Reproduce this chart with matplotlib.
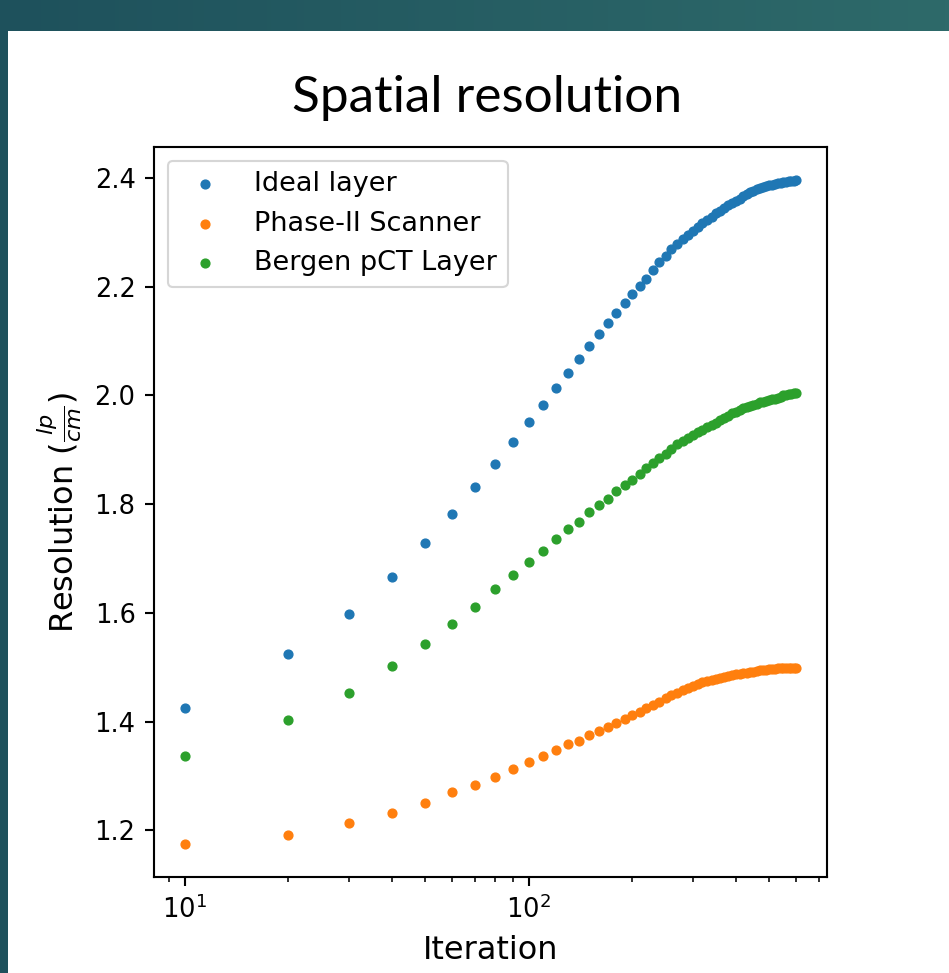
import numpy as np
import matplotlib.pyplot as plt
from matplotlib.colors import LinearSegmentedColormap

# iterations 10, 20, ..., 600
iterations = [10, 20, 30, 40, 50, 60, 70, 80, 90, 100,
              110, 120, 130, 140, 150, 160, 170, 180, 190, 200,
              210, 220, 230, 240, 250, 260, 270, 280, 290, 300,
              310, 320, 330, 340, 350, 360, 370, 380, 390, 400,
              410, 420, 430, 440, 450, 460, 470, 480, 490, 500,
              510, 520, 530, 540, 550, 560, 570, 580, 590, 600]

ideal_layer = [1.425, 1.524, 1.598, 1.665, 1.729, 1.781, 1.831, 1.873, 1.915, 1.951,
               1.982, 2.014, 2.042, 2.067, 2.091, 2.113, 2.134, 2.152, 2.170, 2.187,
               2.202, 2.215, 2.231, 2.245, 2.256, 2.270, 2.279, 2.288, 2.296, 2.303,
               2.310, 2.317, 2.323, 2.329, 2.335, 2.340, 2.345, 2.350, 2.354, 2.358,
               2.362, 2.366, 2.370, 2.374, 2.376, 2.379, 2.381, 2.383, 2.385, 2.387,
               2.388, 2.389, 2.390, 2.391, 2.392, 2.393, 2.394, 2.395, 2.395, 2.396]

phase2_scanner = [1.175, 1.192, 1.214, 1.232, 1.251, 1.270, 1.283, 1.298, 1.312, 1.326,
                  1.337, 1.347, 1.359, 1.365, 1.376, 1.383, 1.390, 1.397, 1.405, 1.412,
                  1.417, 1.424, 1.430, 1.436, 1.443, 1.448, 1.453, 1.458, 1.462, 1.466,
                  1.469, 1.472, 1.474, 1.476, 1.478, 1.480, 1.482, 1.484, 1.485, 1.487,
                  1.488, 1.489, 1.490, 1.491, 1.492, 1.493, 1.494, 1.495, 1.495, 1.496,
                  1.497, 1.497, 1.498, 1.498, 1.499, 1.499, 1.499, 1.499, 1.499, 1.499]

bergen_layer = [1.337, 1.403, 1.453, 1.502, 1.542, 1.580, 1.611, 1.643, 1.670, 1.693,
                1.714, 1.736, 1.754, 1.768, 1.785, 1.799, 1.810, 1.824, 1.835, 1.845,
                1.856, 1.867, 1.876, 1.885, 1.893, 1.902, 1.911, 1.917, 1.922, 1.927,
                1.932, 1.937, 1.942, 1.946, 1.950, 1.954, 1.958, 1.963, 1.967, 1.970,
                1.973, 1.976, 1.978, 1.981, 1.983, 1.985, 1.987, 1.988, 1.990, 1.991,
                1.993, 1.994, 1.996, 1.998, 2.000, 2.001, 2.002, 2.003, 2.004, 2.004]

W, H = 949, 973
k = 1.9  # the chart in the slide is an enlarged default matplotlib plot

fig = plt.figure(figsize=(W / 100, H / 100), dpi=100, facecolor='white')

# slide background: teal bar on top, thin strip on the left
bg = fig.add_axes([0, 0, 1, 1], zorder=-1)
slide = LinearSegmentedColormap.from_list('slide', ['#1e515c', '#2e6a6a'])
bg.imshow(np.linspace(0, 1, 256).reshape(1, -1), cmap=slide,
          extent=[0, W, 31, 0], aspect='auto')
bg.imshow(np.zeros((1, 1)), cmap=slide, vmin=0, vmax=1,
          extent=[0, 8, H, 31], aspect='auto')
bg.set_xlim(0, W)
bg.set_ylim(H, 0)
bg.axis('off')

fig.text(487 / W, 1 - 98 / H, 'Spatial resolution', ha='center', va='center',
         fontsize=37, family='Lato', color='black')

ax = fig.add_axes([154 / W, 1 - 877 / H, (827 - 154) / W, (877 - 147) / H])
ax.scatter(iterations, ideal_layer, s=40, label='Ideal layer')
ax.scatter(iterations, phase2_scanner, s=40, label='Phase-II Scanner')
ax.scatter(iterations, bergen_layer, s=40, label='Bergen pCT Layer')
ax.set_xscale('log')
ax.set_xlabel('Iteration', fontsize=23, labelpad=4 * k)
ax.set_ylabel(r'Resolution ($\frac{lp}{cm}$)', fontsize=23, labelpad=4 * k)
ax.tick_params(which='major', labelsize=18.5, length=3.5 * k, width=0.8 * k, pad=3.5 * k)
ax.tick_params(which='minor', length=2 * k, width=0.6 * k)
for sp in ax.spines.values():
    sp.set_linewidth(0.8 * k)
leg = ax.legend(loc='upper left', fontsize=19.5)
leg.get_frame().set_linewidth(0.8 * k)

plt.savefig('out.png', dpi=100)
